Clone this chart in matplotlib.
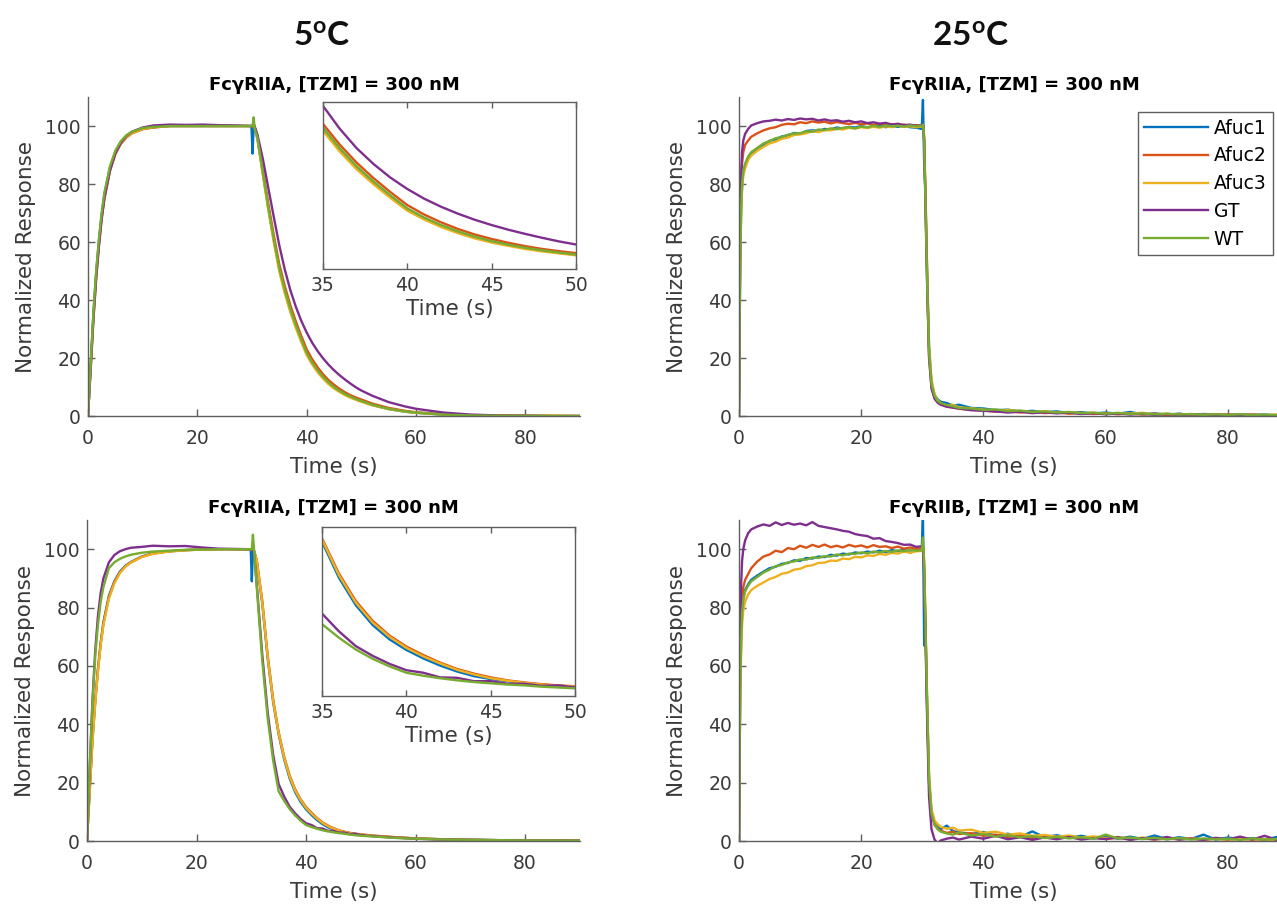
import matplotlib
matplotlib.use("Agg")
import matplotlib.pyplot as plt

plt.rcParams['font.family'] = ['DejaVu Sans']
plt.rcParams['mathtext.fontset'] = 'custom'
plt.rcParams['mathtext.rm'] = 'Lato'
plt.rcParams['mathtext.bf'] = 'Lato:bold'

# ---------------- data ----------------
series_names = ["Afuc1", "Afuc2", "Afuc3", "GT", "WT"]
series_colors = ["#0072BD", "#D95319", "#EDB120", "#7E2F8E", "#77AC30"]

column_titles = [r"$\mathbf{5^{o}C}$", r"$\mathbf{25^{o}C}$"]
panel_titles = ["Fc\u03b3RIIA, [TZM] = 300 nM", "Fc\u03b3RIIA, [TZM] = 300 nM",
                "Fc\u03b3RIIA, [TZM] = 300 nM", "Fc\u03b3RIIB, [TZM] = 300 nM"]

x_ticks = [0, 20, 40, 60, 80]
y_ticks = [0, 20, 40, 60, 80, 100]
inset_ticks = [35, 40, 45, 50]

# time grid, 5 C panels (s)
t_5c = [0, 0.5, 1, 1.5, 2, 2.5, 3, 4, 5, 6, 7, 8, 10, 12, 15, 18, 21, 24, 27, 29.9,
        30.1, 30.3, 30.5,
        31, 32, 33, 34, 35, 36, 37, 38, 39, 40, 41, 42, 43, 44, 45, 46, 47, 48, 49, 50,
        52, 55, 58, 60, 65, 70, 75, 80, 85, 90]

# panel A: 5 C, FcgRIIA
a_afuc1 = [0, 18, 35.5, 49.5, 60.5, 69.5, 76.5, 85.5, 91, 94.4, 96.5, 97.8, 99.1, 99.6, 100, 100, 100, 100, 100, 100,
           90.5, 100, 99.5,
           95.5, 83.5, 71.5, 60.5, 50.6, 43.0, 36.6, 31.1, 26.2, 21.6, 18.3, 15.6, 13.3, 11.4, 9.9, 8.6, 7.5, 6.6, 5.8, 5.1,
           3.8, 2.4, 1.5, 1.1, 0.5, 0.2, 0.1, 0.05, 0, 0]
a_afuc2 = [0, 17, 34, 48, 59, 68, 75, 84.5, 90.3, 93.8, 96, 97.4, 98.9, 99.5, 100, 100, 100, 100, 100, 100,
           100, 100.5, 99.5,
           96.3, 84.8, 73, 62.2, 52.3, 44.8, 38.3, 32.7, 27.7, 23.0, 19.6, 16.8, 14.4, 12.4, 10.8, 9.4, 8.2, 7.2, 6.4, 5.7,
           4.3, 2.8, 1.8, 1.3, 0.6, 0.25, 0.1, 0.05, 0, 0]
a_afuc3 = [0, 17, 34.5, 48.5, 59.5, 68.5, 75.5, 84.8, 90.5, 94, 96.2, 97.5, 99, 99.6, 100, 100, 100, 100, 100, 100,
           100, 101, 99.5,
           95.5, 83, 70.8, 59.8, 49.8, 42.3, 35.9, 30.5, 25.6, 21.0, 17.8, 15.1, 12.9, 11.0, 9.5, 8.3, 7.2, 6.3, 5.6, 4.9,
           3.7, 2.4, 1.5, 1.1, 0.5, 0.2, 0.3, 0.1, 0.2, 0]
a_gt = [0, 16.5, 33.5, 47.5, 58.5, 68, 75, 84.5, 90.5, 94.2, 96.6, 98, 99.5, 100.2, 100.5, 100.4, 100.5, 100.3, 100.2, 100,
        100, 100.8, 99.8,
        97, 88.5, 78.5, 68.5, 58.8, 50.5, 43.5, 37.8, 32.9, 28.8, 25.3, 22.4, 19.9, 17.7, 15.8, 14.1, 12.6, 11.2, 9.9, 8.8,
        7.0, 4.8, 3.3, 2.5, 1.2, 0.5, 0.2, 0.1, 0, 0]
a_wt = [0, 18, 36, 50, 61, 70, 77, 86, 91.5, 94.8, 96.8, 98, 99.3, 99.7, 100, 100, 100, 100, 100, 100,
        100, 103, 99,
        96, 84, 72, 61, 51, 43.5, 37, 31.5, 26.5, 21.8, 18.5, 15.8, 13.5, 11.6, 10.0, 8.7, 7.6, 6.7, 5.9, 5.2,
        3.9, 2.5, 1.6, 1.2, 0.5, 0.2, 0.1, 0.05, 0, 0]

# panel C: 5 C, FcgRIIA (second set)
c_afuc1 = [0, 18, 35, 48, 59, 68, 75, 84, 89, 92.3, 94.3, 95.6, 97.5, 98.6, 99.3, 99.7, 99.9, 100, 100, 100,
           89, 100, 99.5,
           95.5, 81.5, 62.5, 47.5, 36.5, 28, 21.5, 16.8, 13.4, 10.9, 8.9, 7.2, 5.8, 4.7, 4.0, 3.5, 3.0, 2.7, 2.4, 2.2,
           1.8, 1.4, 1.1, 0.9, 0.6, 0.4, 0.3, 0.3, 0.2, 0.2]
c_afuc2 = [0, 17.5, 34.5, 47.5, 58.5, 67.5, 74.5, 83.5, 88.7, 92, 94.1, 95.5, 97.4, 98.5, 99.3, 99.7, 99.9, 100, 100, 100,
           100, 100.5, 99.5,
           96.3, 82.5, 63.5, 48.5, 37.3, 29, 22.5, 17.8, 14.3, 11.7, 9.7, 7.9, 6.4, 5.3, 4.4, 3.7, 3.2, 2.8, 2.5, 2.3,
           1.9, 1.5, 1.1, 0.9, 0.6, 0.4, 0.3, 0.3, 0.2, 0.2]
c_afuc3 = [0, 17, 34, 47, 58, 67, 74, 83, 88.3, 91.8, 94, 95.4, 97.3, 98.4, 99.2, 99.6, 99.9, 100, 100, 100,
           100, 101, 99.5,
           96, 82, 63, 48, 37, 28.6, 22.1, 17.4, 14.0, 11.4, 9.4, 7.7, 6.2, 5.1, 4.2, 3.6, 3.1, 2.7, 2.4, 2.2,
           1.8, 1.4, 1.1, 0.9, 0.6, 0.4, 0.3, 0.3, 0.2, 0.2]
c_gt = [0, 25, 48, 65, 77, 85, 90, 95.5, 98, 99.3, 100, 100.5, 100.8, 101.2, 101, 101.1, 100.6, 100.2, 100.1, 100,
        100, 101, 99,
        88, 64, 44, 29.5, 19.5, 15.3, 11.8, 9.5, 7.6, 6.1, 5.5, 4.4, 4.3, 3.5, 3.5, 2.9, 2.9, 2.4, 2.5, 2.0,
        1.7, 1.3, 1.0, 0.8, 0.5, 0.4, 0.3, 0.2, 0.2, 0.1]
c_wt = [0, 25, 47, 63, 74, 82, 87, 93.5, 95.5, 96.7, 97.5, 98.1, 98.8, 99.2, 99.5, 99.8, 99.9, 100, 100, 100,
        100, 105, 100,
        87, 62, 42, 27.5, 17, 13.8, 11, 8.8, 7.0, 5.5, 4.8, 4.2, 3.7, 3.3, 3.0, 2.7, 2.5, 2.2, 2.0, 1.8,
        1.6, 1.2, 0.9, 0.8, 0.5, 0.4, 0.3, 0.2, 0.2, 0.1]

# time grid, 25 C panels (s)
t_25c = [0, 0.1, 0.2, 0.35, 0.5, 0.7, 1, 1.5, 2,
         3, 4, 5, 6, 7, 8, 9, 10, 11, 12, 13, 14, 15, 16, 17, 18, 19, 20, 21, 22, 23, 24, 25, 26, 27, 28, 29,
         29.9,
         30.1, 30.3, 30.5, 30.8, 31.1, 31.5, 32, 32.5, 33,
         34, 35, 36,
         38, 40, 42, 44, 46, 48, 50, 52, 54, 56, 58, 60, 62, 64, 66, 68, 70, 72, 74, 76, 78, 80, 82, 84, 86, 88, 90]

# panel B: 25 C, FcgRIIA
b_afuc1 = [2, 28, 53, 71, 79, 84, 86.5, 89, 90.5,
           92.3, 93.6, 94.9, 95.4, 96.4, 96.8, 97.6, 97.3, 98.3, 98.5, 98.3, 99.0, 98.8, 99.5, 99.1, 99.7, 99.5,
           100.0, 99.5, 99.9, 100.2, 99.6, 100.0, 99.7, 100.1, 99.6, 99.4,
           99,
           109, 87, 78, 48, 24, 11.5, 7.2, 5.8, 4.9,
           4.5, 3.6, 3.9,
           2.8, 2.6, 2.0, 2.2, 1.5, 1.8, 1.3, 1.6, 1.0, 1.3, 0.9, 1.2, 0.8, 1.4, 0.6, 0.9, 0.5, 0.8, 0.4, 0.7,
           0.5, 0.3, 0.6, 0.4, 0.5, 0.2, 0.4]
b_afuc2 = [8, 35, 62, 79, 87, 91, 93.5, 95, 96.3,
           97.5, 98.5, 99.2, 99.6, 100.4, 100.8, 100.6, 101.3, 101.0, 101.6, 101.2, 101.5, 100.9, 101.4, 101.0,
           100.7, 101.1, 100.6, 100.9, 100.4, 100.8, 100.3, 100.6, 100.2, 100.5, 100.0, 100.3,
           100,
           100.5, 96, 76, 46, 21, 10, 6.2, 4.8, 4.1,
           3.3, 3.0, 2.5,
           2.2, 1.9, 1.5, 1.8, 1.2, 1.5, 1.0, 1.3, 0.8, 1.1, 0.7, 1.0, 0.6, 0.9, 0.5, 0.8, 0.4, 0.7, 0.5, 0.3,
           0.6, 0.4, 0.2, 0.5, 0.3, 0.4, 0.2]
b_afuc3 = [0, 27, 52, 70, 78, 83, 85.5, 88.3, 89.8,
           91.5, 92.8, 94.0, 94.6, 95.6, 96.0, 96.9, 97.1, 97.5, 98.2, 97.9, 98.6, 98.5, 99.1, 98.8, 99.4, 99.1,
           99.6, 99.3, 99.8, 99.4, 99.9, 99.6, 100.1, 99.7, 99.9, 99.6,
           99.8,
           100, 97, 79, 49, 24, 12.5, 7.5, 5.5, 4.3,
           3.6, 3.9, 3.0,
           2.7, 2.2, 1.9, 2.1, 1.6, 1.3, 1.7, 1.1, 1.3, 0.9, 1.1, 0.7, 1.0, 0.8, 1.1, 0.6, 0.8, 0.4, 0.6, 0.5,
           0.3, 0.6, 0.4, 0.5, 0.2, 0.5, 0.3]
b_gt = [0, 35, 65, 83, 91, 95, 97.3, 99, 100.2,
        101.0, 101.6, 101.8, 102.2, 101.9, 102.4, 102.1, 102.6, 102.3, 102.5, 101.9, 102.3, 101.8, 102.0, 101.5,
        101.8, 101.3, 101.6, 101.0, 101.3, 100.8, 101.1, 100.5, 100.8, 100.3, 100.5, 100.1,
        100.2,
        100.6, 95, 74, 44, 20, 9.5, 6.0, 4.6, 3.9,
        3.2, 2.9, 2.6,
        2.0, 1.8, 1.6, 1.2, 1.5, 1.0, 1.3, 0.9, 1.2, 0.7, 1.0, 0.6, 0.9, 0.5, 0.8, 0.4, 0.7, 0.3, 0.6, 0.4,
        0.2, 0.5, 0.3, 0.4, 0.2, 0.3, 0.1]
b_wt = [0, 30, 55, 72, 80, 84.5, 87, 89.5, 91,
        92.5, 94, 94.8, 95.8, 96.2, 97, 97.4, 97.5, 98.2, 98.0, 98.8, 98.6, 99.2, 98.9, 99.4, 99.6, 99.2,
        99.8, 99.6, 100.1, 99.7, 100.2, 99.9, 100.1, 99.8, 100.2, 99.9,
        100,
        100.5, 95, 75, 45, 22, 11, 7, 5.2, 4.5,
        3.8, 3.4, 2.8,
        2.6, 2.1, 2.3, 1.7, 1.9, 1.4, 1.6, 1.2, 1.4, 1.0, 1.2, 0.8, 1.1, 0.7, 0.9, 0.6, 0.8, 0.5, 0.7, 0.4,
        0.6, 0.4, 0.6, 0.3, 0.5, 0.3, 0.4]

# panel D: 25 C, FcgRIIB
d_afuc1 = [0, 28, 53, 70, 79, 83.5, 86, 88, 89.5,
           91, 92.3, 93.5, 94.0, 95.0, 95.3, 96.2, 96.0, 97.0, 96.8, 97.5, 97.3, 98.1, 97.8, 98.5, 98.2, 98.9,
           98.6, 99.2, 98.9, 99.5, 99.0, 99.7, 99.3, 99.9, 98.8, 99.6,
           99.5,
           112, 67, 75, 45, 21, 10, 6.5, 4.8, 4.0,
           5.3, 3.4, 3.0,
           2.4, 3.1, 1.8, 2.5, 1.4, 3.3, 1.3, 2.0, 1.1, 1.8, 0.9, 1.6, 0.8, 1.5, 0.7, 1.9, 0.6, 1.3, 0.7, 2.2,
           0.5, 1.2, 0.6, 1.0, 0.4, 1.4, 0.5]
d_afuc2 = [0, 30, 57, 75, 83, 87, 89.5, 91.5, 93.5,
           95.8, 97.5, 98.2, 99.5, 99.0, 100.4, 100.0, 101.2, 100.5, 101.5, 100.8, 101.6, 100.7, 101.2, 100.6,
           101.5, 100.9, 101.3, 100.6, 101.4, 100.8, 101.0, 100.4, 100.9, 100.2, 100.6, 100.1,
           100.3,
           101, 94, 74, 44, 20, 9, 5.5, 4.2, 3.6,
           2.8, 3.2, 2.4,
           2.7, 1.8, 2.2, 1.4, 1.9, 1.1, 1.6, 0.9, 1.4, 0.8, 1.2, 0.7, 1.1, 0.6, 1.0, 0.5, 0.9, 0.6, 1.0, 0.4,
           0.8, 0.5, 0.9, 0.4, 0.7, 0.5, 0.6]
d_afuc3 = [0, 26, 49, 65, 74, 79, 82, 84.5, 86,
           87.5, 88.6, 89.8, 90.5, 91.6, 92.0, 93.0, 93.3, 94.2, 94.5, 95.3, 95.4, 96.1, 96.0, 96.8, 96.6, 97.4,
           97.2, 97.9, 97.7, 98.4, 98.1, 98.8, 98.5, 99.2, 98.8, 99.3,
           99.4,
           100.5, 95, 76, 47, 23, 11, 7, 5.8, 4.9,
           4.2, 4.6, 3.6,
           3.9, 2.8, 3.2, 2.2, 2.6, 1.8, 2.1, 1.5, 1.9, 1.2, 1.6, 1.0, 1.4, 0.8, 1.2, 0.7, 1.1, 0.6, 0.9, 0.5,
           0.8, 0.4, 0.7, 0.5, 0.6, 0.3, 0.5]
d_gt = [0, 40, 70, 88, 96, 100, 103, 105.5, 106.8,
        107.8, 108.5, 108.0, 109.2, 108.3, 109.0, 108.4, 108.8, 108.2, 109.3, 108.0, 107.6, 107.2, 106.8, 106.3,
        106.0, 105.2, 104.8, 104.5, 103.6, 103.8, 102.8, 102.5, 102.1, 101.5, 101.6, 100.8,
        101,
        101.5, 92, 72, 40, 15, 4, 0.5, -0.8, 0.2,
        0.8, 1.2, 0.5,
        1.5, 0.8, 1.8, 0.6, 1.3, 0.4, 1.2, 0.6, 1.4, 0.5, 1.0, 0.7, 1.3, 0.4, 1.0, 0.6, 1.4, 0.5, 0.8, 0.4,
        1.1, 0.6, 1.5, 0.5, 1.8, 0.4, 0.9]
d_wt = [0, 28, 52, 69, 78, 82.5, 85.5, 87.5, 89,
        90.5, 92, 93, 94.2, 94.6, 95.5, 95.8, 96.5, 96.4, 97.2, 97.0, 97.6, 97.5, 98.2, 97.9, 98.5, 98.4,
        98.9, 98.6, 99.2, 98.9, 99.4, 99.1, 99.6, 99.3, 99.8, 99.5,
        99.6,
        104, 96, 76, 46, 21, 9.5, 5.8, 4.1, 3.2,
        2.6, 2.2, 2.9,
        1.9, 2.4, 1.5, 2.0, 1.3, 1.7, 1.0, 1.4, 0.9, 1.3, 0.8, 2.2, 0.9, 1.2, 0.7, 1.1, 0.6, 1.0, 0.5, 0.9,
        0.6, 0.8, 0.4, 0.9, 0.5, 0.7, 0.4]

inset_ylim_a = (0, 60)
inset_ylim_c = (0, 40)

# ---------------- style ----------------
AX_GRAY = "#5f5f5f"
TXT_GRAY = "#3a3a3a"
TICK_FS = 13.5
LABEL_FS = 15.5
TITLE_FS = 13
LW = 1.7

fig = plt.figure(figsize=(12.77, 9.06), dpi=100)

pos = {
    "A": [0.0689, 0.5408, 0.3853, 0.3521],
    "B": [0.5787, 0.5408, 0.4307, 0.3521],
    "C": [0.0681, 0.0717, 0.3860, 0.3543],
    "D": [0.5787, 0.0717, 0.4307, 0.3543],
}


def style_main(ax, title):
    ax.set_xlim(0, 90)
    ax.set_ylim(0, 110)
    ax.set_xticks(x_ticks)
    ax.set_yticks(y_ticks)
    for s in ("top", "right"):
        ax.spines[s].set_visible(False)
    for s in ("left", "bottom"):
        ax.spines[s].set_color(AX_GRAY)
        ax.spines[s].set_linewidth(1.0)
    ax.tick_params(direction="in", length=5, width=1, color=AX_GRAY,
                   labelcolor=TXT_GRAY, labelsize=TICK_FS)
    ax.tick_params(axis="x", pad=9)
    ax.tick_params(axis="y", pad=5)
    ax.set_xlabel("Time (s)", fontsize=LABEL_FS, color=TXT_GRAY, labelpad=7)
    ax.set_ylabel("Normalized Response", fontsize=LABEL_FS, color=TXT_GRAY, labelpad=7)
    ax.set_title(title, fontsize=TITLE_FS, fontweight="bold", pad=5)


def draw_lines(ax, t, ys):
    lines = []
    for y, c, n in zip(ys, series_colors, series_names):
        ln, = ax.plot(t, y, color=c, lw=LW, label=n)
        lines.append(ln)
    return lines


def add_inset(ax, rect, t, ys, ylim):
    ins = ax.inset_axes(rect)
    draw_lines(ins, t, ys)
    ins.set_xlim(35, 50)
    ins.set_ylim(*ylim)
    ins.set_xticks(inset_ticks)
    ins.set_yticks([])
    for s in ins.spines.values():
        s.set_color(AX_GRAY)
        s.set_linewidth(1.0)
    ins.tick_params(direction="in", length=4, width=1, color=AX_GRAY, top=True,
                    labelcolor=TXT_GRAY, labelsize=TICK_FS, pad=5)
    ins.set_xlabel("Time (s)", fontsize=LABEL_FS, color=TXT_GRAY, labelpad=3)
    return ins


axA = fig.add_axes(pos["A"])
draw_lines(axA, t_5c, [a_afuc1, a_afuc2, a_afuc3, a_gt, a_wt])
style_main(axA, panel_titles[0])
add_inset(axA, [0.477, 0.461, 0.515, 0.523], t_5c,
          [a_afuc1, a_afuc2, a_afuc3, a_gt, a_wt], inset_ylim_a)

axB = fig.add_axes(pos["B"])
linesB = draw_lines(axB, t_25c, [b_afuc1, b_afuc2, b_afuc3, b_gt, b_wt])
style_main(axB, panel_titles[1])
leg = axB.legend(handles=linesB, loc="upper right", bbox_to_anchor=(0.971, 0.953),
                 borderaxespad=0, fancybox=False, framealpha=1, edgecolor=AX_GRAY,
                 fontsize=TICK_FS, handlelength=3.4, handletextpad=0.3,
                 labelspacing=0.47, borderpad=0.35)
leg.get_frame().set_linewidth(1.0)

axC = fig.add_axes(pos["C"])
draw_lines(axC, t_5c, [c_afuc1, c_afuc2, c_afuc3, c_gt, c_wt])
style_main(axC, panel_titles[2])
add_inset(axC, [0.477, 0.452, 0.513, 0.526], t_5c,
          [c_afuc1, c_afuc2, c_afuc3, c_gt, c_wt], inset_ylim_c)

axD = fig.add_axes(pos["D"])
draw_lines(axD, t_25c, [d_afuc1, d_afuc2, d_afuc3, d_gt, d_wt])
style_main(axD, panel_titles[3])

fig.text(0.252, 0.961, column_titles[0], fontsize=24, ha="center", va="center", color="#111111")
fig.text(0.760, 0.961, column_titles[1], fontsize=24, ha="center", va="center", color="#111111")

fig.savefig("out.png", dpi=100)
